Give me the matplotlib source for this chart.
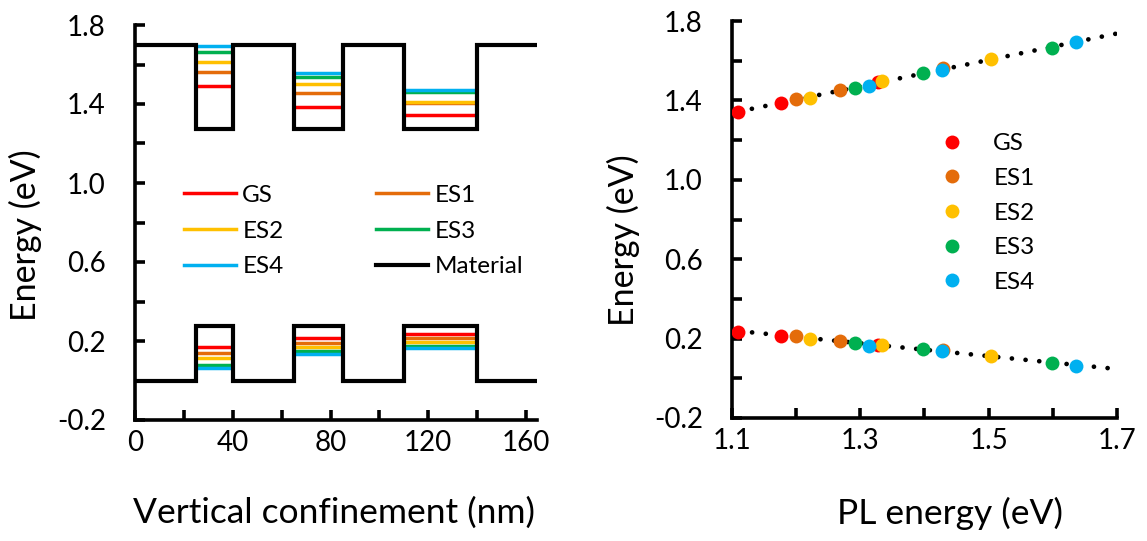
import numpy as np
import matplotlib
matplotlib.use("Agg")
import matplotlib.pyplot as plt
from matplotlib.lines import Line2D

plt.rcParams['font.family'] = ['Lato', 'DejaVu Sans']

# --- data ---
states = ["GS", "ES1", "ES2", "ES3", "ES4"]
colors = ["#FF0000", "#E46C0A", "#FFC000", "#00B050", "#00B0F0"]

# quantum wells: left / right edge (nm)
well_left = [25, 65, 110]
well_right = [40, 85, 140]
x_end = 164.5
cb_barrier, cb_well = 1.70, 1.275
vb_barrier, vb_well = 0.0, 0.275

# PL energy of each state, one row per well (narrow -> wide)
pl_energy = [
    [1.328, 1.429, 1.504, 1.599, 1.636],
    [1.177, 1.268, 1.334, 1.398, 1.428],
    [1.110, 1.199, 1.221, 1.292, 1.313],
]
# electron levels (eV)
e_level = [
    [1.492, 1.562, 1.611, 1.663, 1.693],
    [1.386, 1.454, 1.500, 1.537, 1.555],
    [1.342, 1.407, 1.412, 1.460, 1.473],
]
# hole levels (eV)
h_level = [
    [0.170, 0.141, 0.113, 0.076, 0.063],
    [0.215, 0.190, 0.170, 0.148, 0.136],
    [0.235, 0.215, 0.196, 0.177, 0.164],
]

W, H = 1147, 541
fig = plt.figure(figsize=(W / 100, H / 100), dpi=100)


def ax_at(l, t, r, b):
    return fig.add_axes([l / W, 1 - b / H, (r - l) / W, (b - t) / H])


def style(ax):
    for s in ["top", "right"]:
        ax.spines[s].set_visible(False)
    for s in ["left", "bottom"]:
        ax.spines[s].set_linewidth(2.6)
    ax.tick_params(which="both", direction="in", length=7, width=2.6,
                   labelsize=20)
    ax.tick_params(axis="y", which="both", pad=21)
    ax.tick_params(axis="x", which="both", pad=7)


# ---------------- left: band profile ----------------
ax1 = ax_at(135, 25, 537, 420)
style(ax1)

wells = [(well_left[0], well_right[0]), (well_left[1], well_right[1]),
         (well_left[2], well_right[2])]
for w, (a, b) in enumerate(wells):
    for k in range(5):
        ax1.plot([a, b], [e_level[w][k]] * 2, color=colors[k], lw=2.5,
                 solid_capstyle="butt", zorder=2)
        ax1.plot([a, b], [h_level[w][k]] * 2, color=colors[k], lw=2.5,
                 solid_capstyle="butt", zorder=2)

xs = [0]
cb = [cb_barrier]
vb = [vb_barrier]
for a, b in wells:
    xs += [a, a, b, b]
    cb += [cb_barrier, cb_well, cb_well, cb_barrier]
    vb += [vb_barrier, vb_well, vb_well, vb_barrier]
xs.append(x_end)
cb.append(cb_barrier)
vb.append(vb_barrier)
ax1.plot(xs, cb, color="black", lw=3, zorder=3, solid_joinstyle="miter")
ax1.plot(xs, vb, color="black", lw=3, zorder=3, solid_joinstyle="miter")

ax1.set_xlim(0, x_end)
ax1.set_ylim(-0.2, 1.8)
ax1.set_xticks([0, 40, 80, 120, 160])
ax1.set_xticks(np.arange(0, 161, 20), minor=True)
ax1.set_yticks([-0.2, 0.2, 0.6, 1.0, 1.4, 1.8])
ax1.set_yticklabels(["-0.2", "0.2", "0.6", "1.0", "1.4", "1.8"])
ax1.set_yticks(np.arange(-0.2, 1.81, 0.2), minor=True)

handles = [Line2D([], [], color=c, lw=2.5) for c in colors]
handles.append(Line2D([], [], color="black", lw=3))
labels = states + ["Material"]
order = [0, 2, 4, 1, 3, 5]
ax1.legend([handles[i] for i in order], [labels[i] for i in order],
           ncol=2, frameon=False, fontsize=17.5, handlelength=2.15,
           handletextpad=0.25, columnspacing=3.8, labelspacing=0.6,
           borderaxespad=0, borderpad=0,
           loc="center left", bbox_to_anchor=((184 - 135) / 402,
                                              1 - (231 - 25) / 395))

# ---------------- right: levels vs PL energy ----------------
ax2 = ax_at(732, 21, 1117, 418)
style(ax2)

pl_all = np.array(pl_energy).ravel()
e_all = np.array(e_level).ravel()
h_all = np.array(h_level).ravel()
for lev in (e_all, h_all):
    p = np.polyfit(pl_all, lev, 1)
    xf = np.linspace(pl_all.min(), 1.7, 100)
    ax2.plot(xf, np.polyval(p, xf), color="black", lw=3.4,
             linestyle=(0, (0.01, 2.9)), dash_capstyle="round", zorder=2)

for k in range(5):
    px = [pl_energy[w][k] for w in range(3)]
    ax2.plot(px, [e_level[w][k] for w in range(3)], "o", color=colors[k],
             ms=10, mew=0, zorder=3, label=states[k])
    ax2.plot(px, [h_level[w][k] for w in range(3)], "o", color=colors[k],
             ms=10, mew=0, zorder=3)

ax2.set_xlim(1.1, 1.7)
ax2.set_ylim(-0.2, 1.8)
ax2.set_xticks([1.1, 1.3, 1.5, 1.7])
ax2.set_xticks(np.arange(1.1, 1.71, 0.1), minor=True)
ax2.set_yticks([-0.2, 0.2, 0.6, 1.0, 1.4, 1.8])
ax2.set_yticklabels(["-0.2", "0.2", "0.6", "1.0", "1.4", "1.8"])
ax2.set_yticks(np.arange(-0.2, 1.81, 0.2), minor=True)
ax2.legend(frameon=False, fontsize=17.5, handletextpad=1.0,
           labelspacing=0.56, borderaxespad=0, borderpad=0,
           loc="center left", handlelength=1.4,
           bbox_to_anchor=((935 - 732) / 385, 1 - (213 - 21) / 397))

# axis titles
fig.text(25 / W, 1 - 235 / H, "Energy (eV)", rotation=90, ha="center",
         va="center", fontsize=24.5)
fig.text(623 / W, 1 - 240 / H, "Energy (eV)", rotation=90, ha="center",
         va="center", fontsize=24.5)
fig.text(334 / W, 1 - 513 / H, "Vertical confinement (nm)", ha="center",
         va="center", fontsize=25.5)
fig.text(950 / W, 1 - 513 / H, "PL energy (eV)", ha="center", va="center",
         fontsize=25.5)

fig.savefig("out.png", dpi=100)
